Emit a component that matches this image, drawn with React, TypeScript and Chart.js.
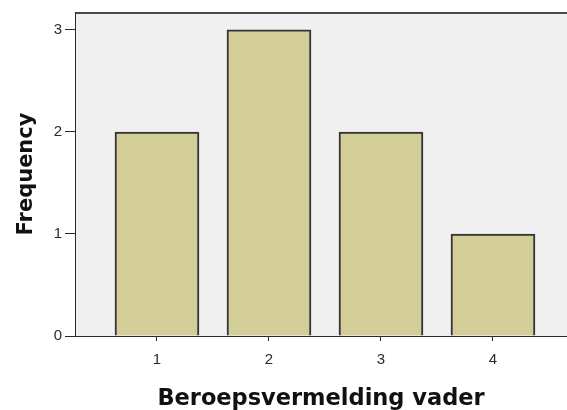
import React, { useEffect, useRef } from "react";
import { Chart, registerables } from "chart.js";

Chart.register(...registerables);

const categories = [1, 2, 3, 4];
const frequencies = [2, 3, 2, 1];
const yTickValues = [0, 1, 2, 3];
const xTitle = "Beroepsvermelding vader";
const yTitle = "Frequency";

const plotBackground = {
  id: "plotBackground",
  beforeDraw(chart: any) {
    const { ctx, chartArea } = chart;
    const { left, top, right, bottom } = chartArea;
    ctx.save();
    ctx.fillStyle = "#F0F0F0";
    ctx.fillRect(left, top, right - left, bottom - top);
    ctx.strokeStyle = "#4a4a4a";
    ctx.lineWidth = 2;
    ctx.beginPath();
    ctx.moveTo(left, top + 1);
    ctx.lineTo(right, top + 1);
    ctx.stroke();
    ctx.restore();
  },
};

function zeroPad(scale: any) {
  scale.paddingLeft = 0;
  scale.paddingRight = 0;
  scale.paddingTop = 0;
  scale.paddingBottom = 0;
}

export default function App() {
  const canvasRef = useRef<HTMLCanvasElement | null>(null);

  useEffect(() => {
    const canvas = canvasRef.current;
    if (!canvas) return;
    const chart = new Chart(canvas, {
      type: "bar",
      data: {
        datasets: [
          {
            data: categories.map((c, i) => ({ x: c, y: frequencies[i] })),
            backgroundColor: "#D3CE98",
            borderColor: "#333333",
            borderWidth: 2,
            borderSkipped: "start",
            barThickness: 84,
          },
        ],
      },
      options: {
        animation: false,
        responsive: false,
        devicePixelRatio: 1,
        layout: { padding: { left: 0, right: 0, top: 12, bottom: 0 } },
        plugins: {
          legend: { display: false },
          tooltip: { enabled: false },
        },
        scales: {
          x: {
            type: "linear",
            offset: false,
            min: 0.268,
            max: 4.661,
            afterBuildTicks: (scale: any) => {
              scale.ticks = categories.map((v) => ({ value: v }));
            },
            afterFit: (scale: any) => {
              scale.height = 74;
              zeroPad(scale);
            },
            grid: {
              offset: false,
              drawOnChartArea: false,
              drawTicks: true,
              tickLength: 5,
              color: "#2a2a2a",
              lineWidth: 1,
            },
            border: { display: true, color: "#2a2a2a", width: 1 },
            ticks: {
              padding: 10,
              color: "#2a2a2a",
              font: { family: "'Liberation Sans', Arial, sans-serif", size: 15 },
              callback: (v: any) => String(v),
              maxRotation: 0,
            },
            title: {
              display: true,
              text: xTitle,
              color: "#111",
              font: { family: "'DejaVu Sans', sans-serif", size: 22.5, weight: "bold" },
              padding: { top: 0, bottom: -3 },
            },
          },
          y: {
            type: "linear",
            min: 0,
            max: 3.176,
            afterBuildTicks: (scale: any) => {
              scale.ticks = yTickValues.map((v) => ({ value: v }));
            },
            afterFit: (scale: any) => {
              scale.width = 75;
              zeroPad(scale);
            },
            grid: {
              drawOnChartArea: false,
              drawTicks: true,
              tickLength: 10,
              color: "#2a2a2a",
              lineWidth: 1,
            },
            border: { display: true, color: "#2a2a2a", width: 1 },
            ticks: {
              padding: 3,
              color: "#2a2a2a",
              font: { family: "'Liberation Sans', Arial, sans-serif", size: 15 },
              callback: (v: any) => String(v),
            },
            title: {
              display: true,
              text: yTitle,
              color: "#111",
              font: { family: "'DejaVu Sans', sans-serif", size: 21, weight: "bold" },
              padding: { top: 14, bottom: 0 },
            },
          },
        },
      },
      plugins: [plotBackground],
    });
    return () => chart.destroy();
  }, []);

  return (
    <div style={{ position: "absolute", left: 0, top: 0, width: 567, height: 410, background: "#fff" }}>
      <canvas ref={canvasRef} width={567} height={410} style={{ display: "block" }} />
    </div>
  );
}
